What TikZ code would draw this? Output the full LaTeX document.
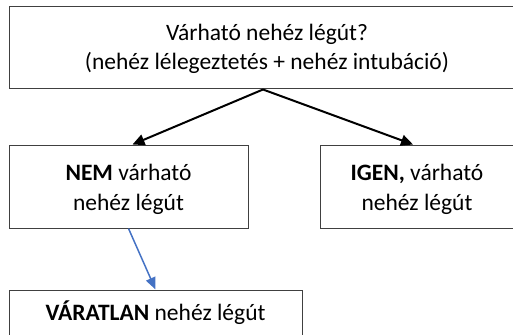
\documentclass[tikz,border=0pt]{standalone}
\usepackage{fontspec}
\setmainfont{Carlito}
\usetikzlibrary{arrows.meta}
\definecolor{boxline}{HTML}{404040}
\definecolor{bluearrow}{HTML}{4472C4}
\tikzset{
  box/.style={draw=boxline, line width=1pt, rectangle, inner sep=0pt, align=center},
  blackarrow/.style={draw=black, line width=2pt, -{Triangle[length=12pt,width=11pt]}},
  bluearr/.style={draw=bluearrow, line width=1.5pt, -{Triangle[length=12pt,width=10pt]}}
}
\begin{document}
\begin{tikzpicture}[x=1pt,y=-1pt]
\useasboundingbox (0,0) rectangle (513,334);
\clip (0,0) rectangle (513,334);
\node[box, font=\fontsize{23.5}{28.6}\selectfont, text height=45pt, text depth=2.4pt,
  minimum width=516pt, minimum height=82pt] (top) at (267,48)
  {Várható nehéz légút?\\(nehéz lélegeztetés + nehéz intubáció)};
\node[box, font=\fontsize{23.5}{30}\selectfont, text height=50pt, text depth=3pt,
  minimum width=239pt, minimum height=83pt] (no) at (128.5,186.5)
  {\textbf{NEM} várható\\nehéz légút};
\node[box, font=\fontsize{23.5}{30}\selectfont, text height=50pt, text depth=3pt,
  minimum width=194pt, minimum height=83pt] (yes) at (417,186.5)
  {\textbf{IGEN,} várható\\nehéz légút};
\node[box, font=\fontsize{23.5}{30}\selectfont, text height=16pt, text depth=3pt,
  minimum width=293pt, minimum height=48pt] (unexp) at (155.5,314)
  {\textbf{VÁRATLAN} nehéz légút};
\draw[blackarrow] ([xshift=-4pt]top.south) -- ([xshift=4pt]no.north);
\draw[blackarrow] ([xshift=-4pt]top.south) -- ([xshift=-4pt]yes.north);
\draw[bluearr] (no.south) -- (unexp.north);
\end{tikzpicture}
\end{document}
